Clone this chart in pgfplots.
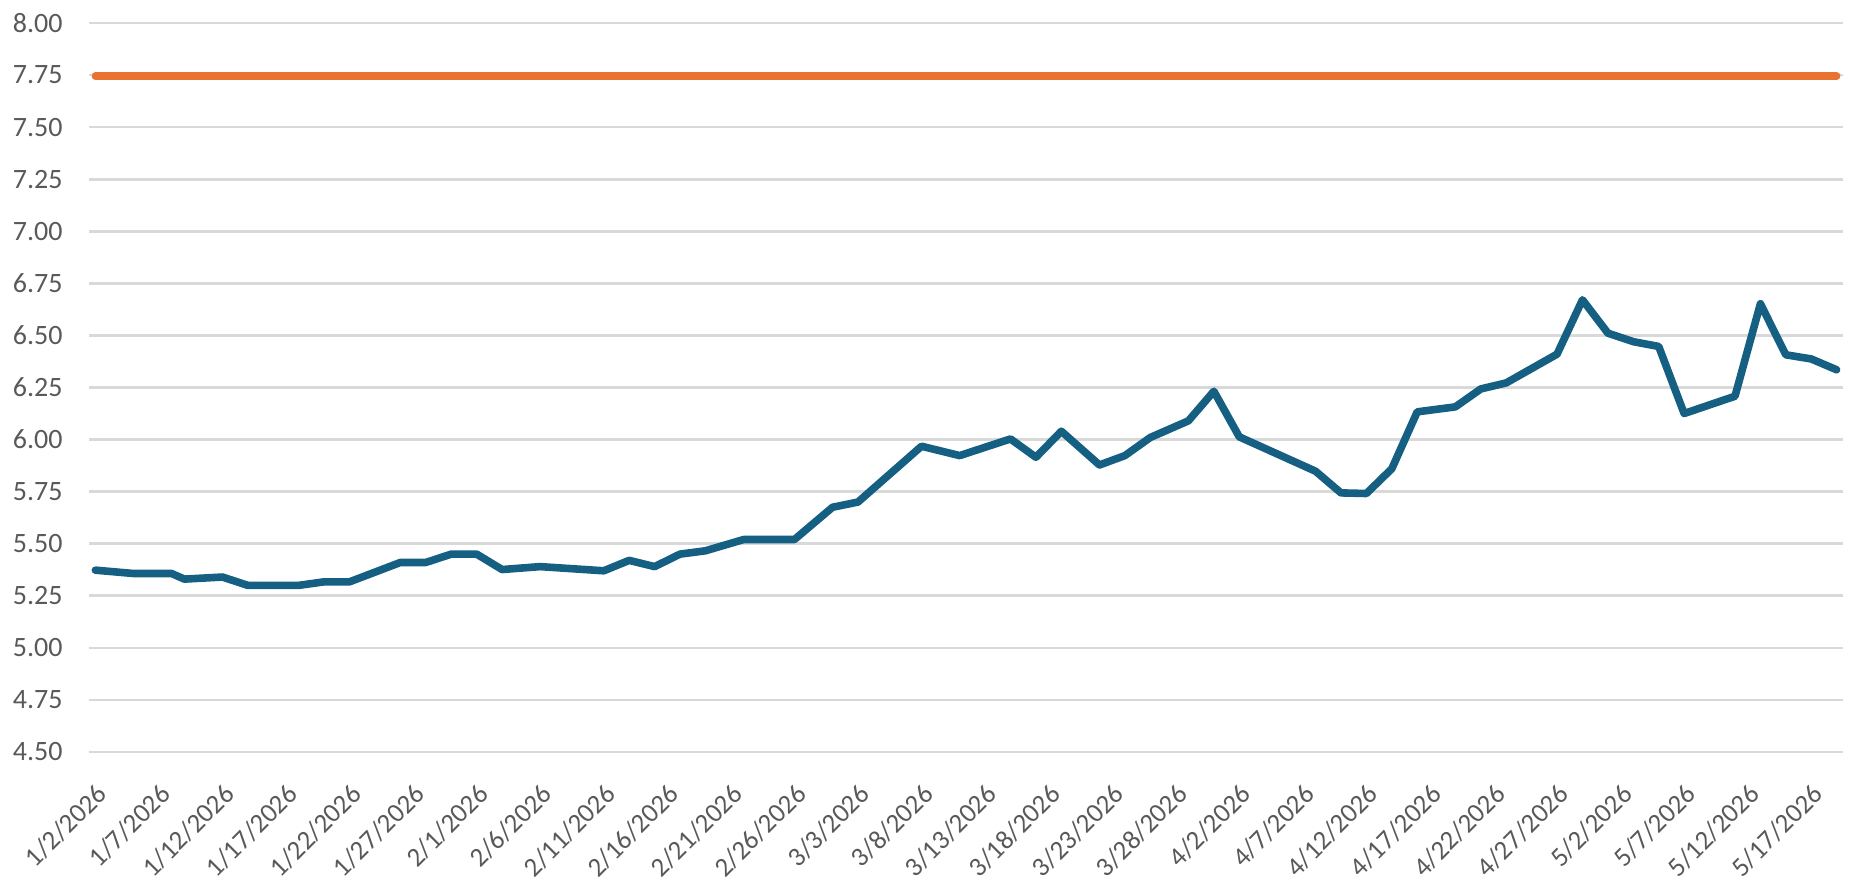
\documentclass[border=0pt]{standalone}
\usepackage{fontspec}
\setmainfont{Carlito}
\usepackage{pgfplots}
\pgfplotsset{compat=1.18}
\definecolor{blueline}{HTML}{156082}
\definecolor{orangeline}{HTML}{E97132}
\definecolor{gridgray}{HTML}{D9D9D9}
\definecolor{labelgray}{HTML}{595959}
\begin{document}
\fontsize{14pt}{16pt}\selectfont
\begin{tikzpicture}
\begin{axis}[
  at={(0,0)}, anchor=south west,
  width=877pt, height=364.5pt, scale only axis,
  xmin=-0.5, xmax=137.5, ymin=4.5, ymax=8,
  xtick={0,5,...,135},
  xticklabels={1/2/2026,1/7/2026,1/12/2026,1/17/2026,1/22/2026,1/27/2026,
    2/1/2026,2/6/2026,2/11/2026,2/16/2026,2/21/2026,2/26/2026,
    3/3/2026,3/8/2026,3/13/2026,3/18/2026,3/23/2026,3/28/2026,
    4/2/2026,4/7/2026,4/12/2026,4/17/2026,4/22/2026,4/27/2026,
    5/2/2026,5/7/2026,5/12/2026,5/17/2026},
  ytick={4.5,4.75,5,5.25,5.5,5.75,6,6.25,6.5,6.75,7,7.25,7.5,7.75,8},
  ymajorgrids,
  grid style={gridgray, line width=1.3pt},
  axis line style={draw=none},
  major tick length=0pt,
  /pgf/number format/assume math mode=true,
  tick label style={color=labelgray},
  yticklabel style={font=\fontsize{14pt}{16pt}\selectfont,
    /pgf/number format/fixed, /pgf/number format/fixed zerofill,
    /pgf/number format/precision=2, anchor=east, inner sep=0pt, xshift=-13pt},
  xticklabel style={font=\fontsize{13.5pt}{15pt}\selectfont,
    yshift=-15pt, rotate=45, anchor=north east, inner sep=0pt},
  clip=false,
]
\addplot[orangeline, line width=3.7pt, line cap=round] coordinates {
  (0,7.745) (137,7.745)
};
\addplot[blueline, line width=3.8pt, line cap=round, line join=round] coordinates {
  (0,5.373) (3,5.357) (6,5.357) (7,5.330) (10,5.340) (12,5.300) (16,5.300)
  (18,5.317) (20,5.317) (24,5.410) (26,5.410) (28,5.450) (30,5.450) (32,5.376)
  (35,5.390) (40,5.370) (42,5.420) (44,5.390) (46,5.450) (48,5.466) (51,5.520)
  (55,5.520) (58,5.675) (60,5.700) (65,5.968) (68,5.923) (72,6.003) (74,5.915)
  (76,6.040) (79,5.878) (81,5.923) (83,6.010) (86,6.090) (88,6.232) (90,6.013)
  (96,5.848) (98,5.744) (100,5.741) (102,5.860) (104,6.133) (107,6.157)
  (109,6.243) (111,6.272) (115,6.410) (117,6.671) (119,6.511) (121,6.470)
  (123,6.447) (125,6.125) (129,6.208) (131,6.652) (133,6.407) (135,6.387)
  (137,6.335)
};
\end{axis}
\pgfresetboundingbox
\useasboundingbox (-44.5pt,-67.5pt) rectangle (880.5pt,376pt);
\end{tikzpicture}
\end{document}
